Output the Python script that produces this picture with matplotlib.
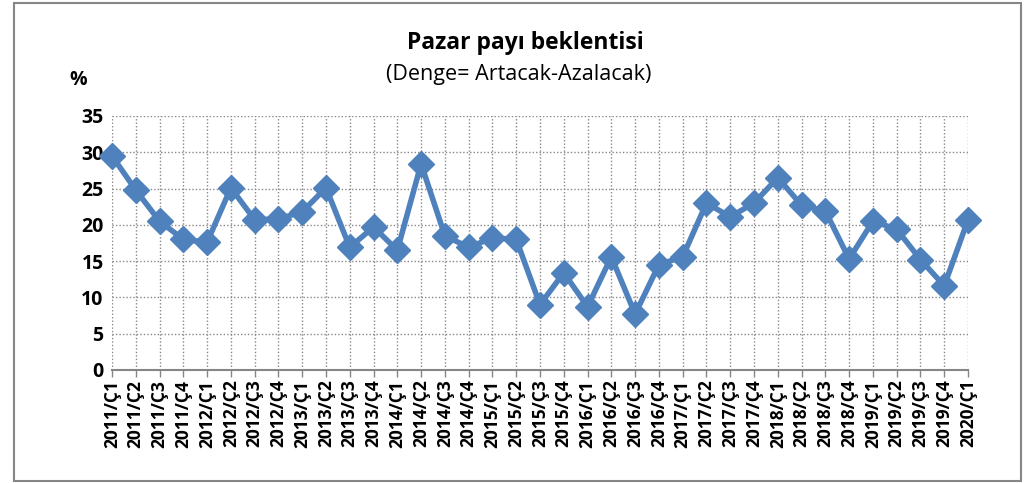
import matplotlib
matplotlib.use("Agg")
import matplotlib.pyplot as plt
from matplotlib.patches import Rectangle

# data
quarters = ["2011/Ç1", "2011/Ç2", "2011/Ç3", "2011/Ç4",
            "2012/Ç1", "2012/Ç2", "2012/Ç3", "2012/Ç4",
            "2013/Ç1", "2013/Ç2", "2013/Ç3", "2013/Ç4",
            "2014/Ç1", "2014/Ç2", "2014/Ç3", "2014/Ç4",
            "2015/Ç1", "2015/Ç2", "2015/Ç3", "2015/Ç4",
            "2016/Ç1", "2016/Ç2", "2016/Ç3", "2016/Ç4",
            "2017/Ç1", "2017/Ç2", "2017/Ç3", "2017/Ç4",
            "2018/Ç1", "2018/Ç2", "2018/Ç3", "2018/Ç4",
            "2019/Ç1", "2019/Ç2", "2019/Ç3", "2019/Ç4",
            "2020/Ç1"]
values = [29.5, 24.8, 20.5, 18.0,
          17.6, 25.1, 20.7, 20.8,
          21.8, 25.1, 16.9, 19.7,
          16.5, 28.4, 18.5, 16.9,
          18.2, 18.0, 9.0, 13.4,
          8.7, 15.6, 7.7, 14.5,
          15.6, 23.0, 21.1, 23.0,
          26.5, 22.7, 21.9, 15.3,
          20.5, 19.4, 15.2, 11.6,
          20.7]
y_ticks = [0, 5, 10, 15, 20, 25, 30, 35]

plt.rcParams['font.family'] = ['Open Sans', 'DejaVu Sans']

fig = plt.figure(figsize=(10.33, 4.83), dpi=100)
ax = fig.add_axes([0.1084, 0.234, 0.8287, 0.5259])

x = list(range(len(quarters)))
ax.plot(x, values, color="#4F81BD", linewidth=4, marker="D",
        markersize=13, markerfacecolor="#4F81BD", markeredgecolor="#4F81BD",
        zorder=3, clip_on=False)

ax.set_xlim(0, len(quarters) - 1)
ax.set_ylim(0, 35)
ax.set_yticks(y_ticks)
ax.set_xticks(x)
ax.set_xticklabels(quarters, rotation=90, fontsize=12.5, fontweight="bold")
ax.set_yticklabels([str(v) for v in y_ticks], fontsize=14, fontweight="bold")

# dotted grid
ax.grid(True, color="#888888", linestyle=(0, (1, 1.5)), linewidth=1)
ax.set_axisbelow(True)

for side in ["left", "top", "right"]:
    ax.spines[side].set_visible(False)
ax.spines["bottom"].set_color("#868686")
ax.spines["bottom"].set_linewidth(1.5)
ax.tick_params(axis="x", length=5, color="#868686", width=1, pad=2)
ax.tick_params(axis="y", length=0, pad=6)

# titles
fig.text(0.509, 0.912, "Pazar payı beklentisi", ha="center", va="center",
         fontsize=16.5, fontweight="bold")
fig.text(0.502, 0.846, "(Denge= Artacak-Azalacak)", ha="center", va="center",
         fontsize=15.5)
fig.text(0.076, 0.835, "%", ha="center", va="center", fontsize=14,
         fontweight="bold")

# outer frame
fig.patches.append(Rectangle((0.014, 0.004), 0.974, 0.99, transform=fig.transFigure,
                             fill=False, edgecolor="#868686", linewidth=1.5))

fig.savefig("out.png", dpi=100)
